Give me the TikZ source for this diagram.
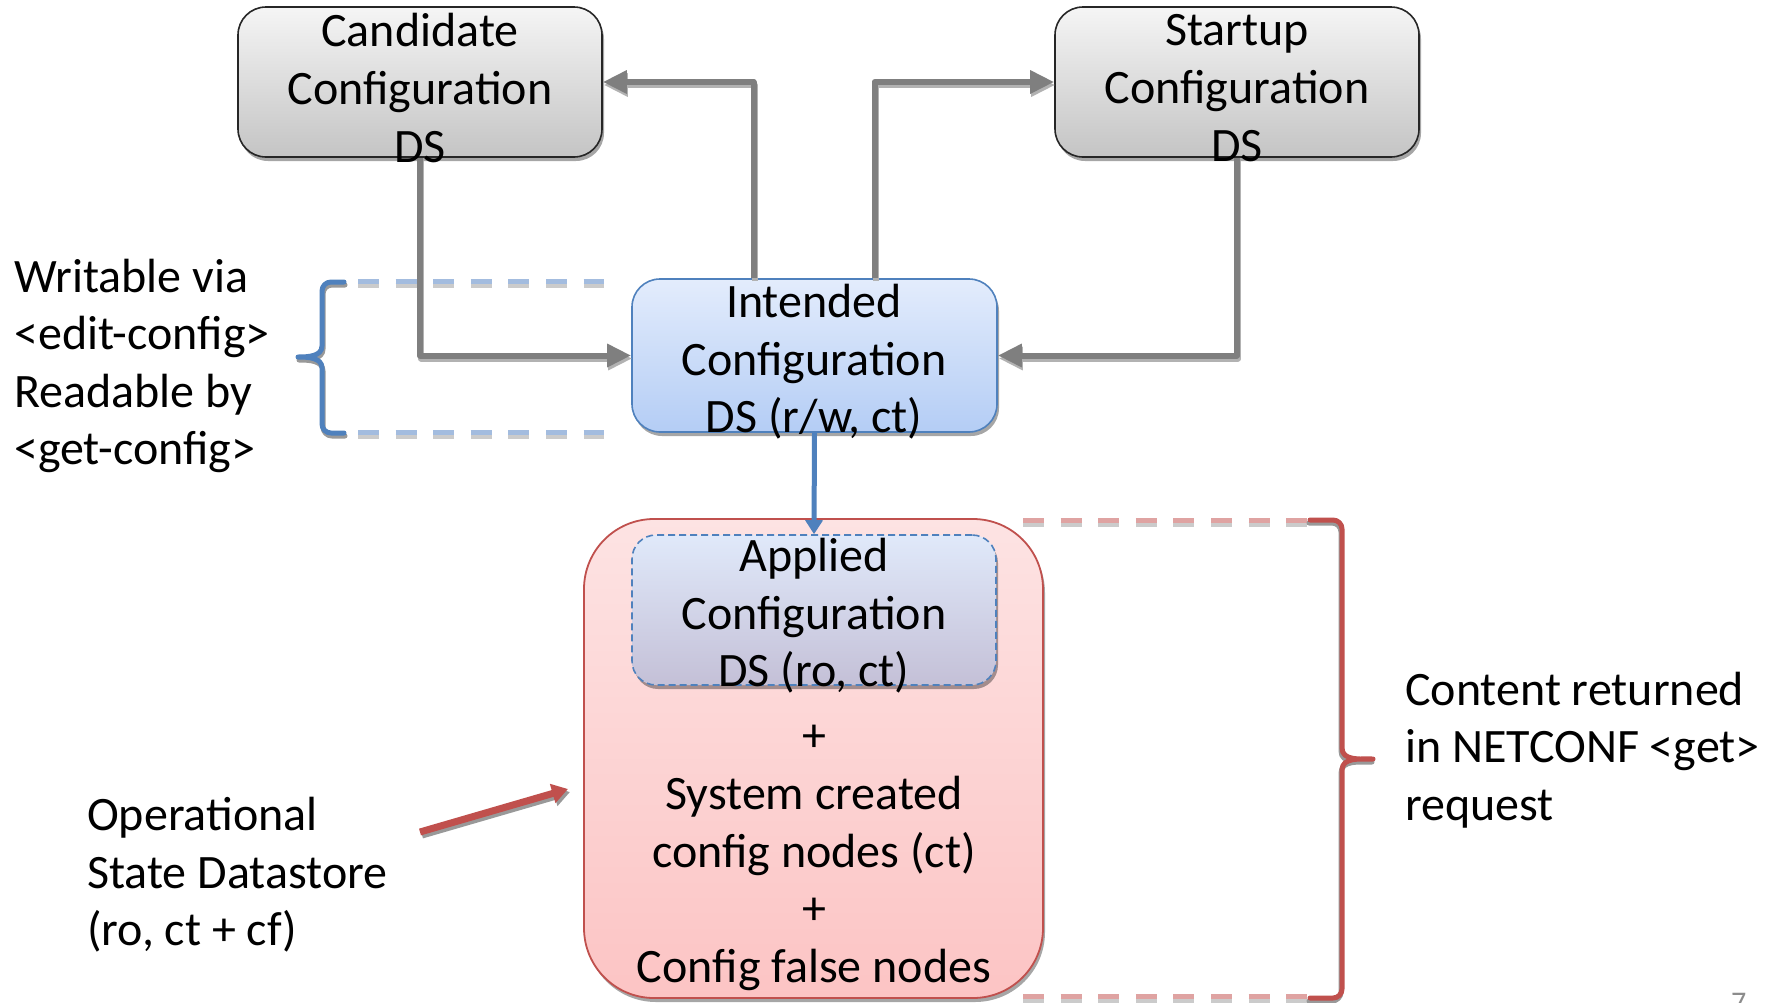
\documentclass[tikz,border=0pt]{standalone}
\usepackage{fontspec}
\setmainfont{Carlito}
\usetikzlibrary{arrows.meta,shadows}

\definecolor{connGray}{HTML}{7F7F7F}
\definecolor{connShadow}{HTML}{B2B2B2}
\definecolor{dsBlue}{HTML}{4F81BD}
\definecolor{dsRed}{HTML}{C0504D}
\definecolor{dashBlue}{HTML}{A3BCDF}
\definecolor{dashRed}{HTML}{DFA3A2}
\definecolor{dashShadow}{HTML}{CBCBCB}

\begin{document}
\begin{tikzpicture}[x=1pt,y=-1pt,
  lbl/.style={font=\fontsize{48}{57.6}\selectfont, align=center, inner sep=0pt},
  sidelbl/.style={font=\fontsize{48}{57.6}\selectfont, align=left, inner sep=0pt, anchor=west},
  boxshadow/.style={drop shadow={shadow xshift=2pt, shadow yshift=-4pt, fill=black, opacity=0.35}},
  dsbox/.style={rounded corners=28pt, line width=1.6pt, minimum width=364pt,
    minimum height=150pt, inner sep=0pt, shading=axis, boxshadow},
  graybox/.style={dsbox, draw=black!85, top color=white!96!black, bottom color=white!77!black},
  bluebox/.style={dsbox, draw=dsBlue},
  gconn/.style={draw=connGray, line width=6pt, line join=round,
    -{Triangle[length=24pt,width=22pt]}},
  gshadow/.style={gconn, draw=connShadow, transform canvas={shift={(1pt,-3pt)}}},
  bconn/.style={draw=dsBlue, line width=5pt, -{Triangle[length=14pt,width=17pt]}},
  redarrow/.style={draw=dsRed, line width=7pt, -{Triangle[length=16pt,width=19pt]}},
  redshadow/.style={redarrow, draw=black!40, transform canvas={shift={(2pt,-3pt)}}},
  bracestroke/.style={line width=5pt, line cap=round, line join=round},
  dashstroke/.style={line width=5pt, dash pattern=on 21pt off 16.6pt}
]
\useasboundingbox (0,0) rectangle (1774,1002);
\fill[white] (0,0) rectangle (1774,1002);

% datastore boxes
\node[graybox] (cand) at (420,82) {};
\node[graybox] (stup) at (1237,82) {};
\node[bluebox, minimum width=365pt, minimum height=153pt, top color={rgb,255:red,227;green,236;blue,252},
  bottom color={rgb,255:red,180;green,205;blue,245}] (int) at (814.5,355.5) {};

% operational state datastore
\node[rounded corners=70pt, draw=dsRed, line width=1.8pt, minimum width=459pt, minimum height=479pt,
  shading=axis, top color={rgb,255:red,253;green,227;blue,227}, bottom color={rgb,255:red,252;green,196;blue,196},
  boxshadow] (oper) at (813.5,758.5) {};
\node[rounded corners=24pt, draw=dsBlue, line width=1.6pt, dash pattern=on 7pt off 4pt,
  minimum width=364pt, minimum height=150pt, shading=axis,
  top color={rgb,255:red,224;green,233;blue,250}, bottom color={rgb,255:red,196;green,192;blue,215},
  boxshadow] (appl) at (814,610) {};

% gray connectors with their shadows
\draw[gshadow] (cand.south) |- (int.west);
\draw[gshadow] ([xshift=-61pt]int.north) |- (cand.east);
\draw[gshadow] ([xshift=60pt]int.north) |- (stup.west);
\draw[gshadow] (stup.south) |- (int.east);
\draw[gconn] (cand.south) |- (int.west);
\draw[gconn] ([xshift=-61pt]int.north) |- (cand.east);
\draw[gconn] ([xshift=60pt]int.north) |- (stup.west);
\draw[gconn] (stup.south) |- (int.east);

% intended -> applied
\draw[bconn] (int.south) -- (appl.north);

% dashed guide lines
\draw[dashstroke, draw=dashShadow] (358,285) -- (604,285);
\draw[dashstroke, draw=dashBlue] (358,281) -- (604,281);
\draw[dashstroke, draw=dashShadow] (358,436) -- (604,436);
\draw[dashstroke, draw=dashBlue] (358,432) -- (604,432);
\draw[dashstroke, draw=dashShadow] (1023,524) -- (1308,524);
\draw[dashstroke, draw=dashRed] (1023,520) -- (1308,520);
\draw[dashstroke, draw=dashShadow] (1023,1000) -- (1308,1000);
\draw[dashstroke, draw=dashRed] (1023,996) -- (1308,996);

% braces
\draw[bracestroke, draw=black!40, transform canvas={shift={(1pt,-3pt)}}]
  (344,282) -- (331,282) to[out=180,in=90] (322,291) -- (322,346)
  to[out=-90,in=0] (298,357) to[out=0,in=90] (322,368) -- (322,424)
  to[out=-90,in=180] (331,433) -- (344,433);
\draw[bracestroke, draw=dsBlue]
  (344,282) -- (331,282) to[out=180,in=90] (322,291) -- (322,346)
  to[out=-90,in=0] (298,357) to[out=0,in=90] (322,368) -- (322,424)
  to[out=-90,in=180] (331,433) -- (344,433);
\draw[bracestroke, draw=black!40, transform canvas={shift={(-1pt,-3pt)}}]
  (1310,520) -- (1333,520) to[out=0,in=90] (1342,529) -- (1342,748)
  to[out=-90,in=180] (1373,759) to[out=180,in=90] (1342,770) -- (1342,989)
  to[out=-90,in=0] (1333,998) -- (1310,998);
\draw[bracestroke, draw=dsRed]
  (1310,520) -- (1333,520) to[out=0,in=90] (1342,529) -- (1342,748)
  to[out=-90,in=180] (1373,759) to[out=180,in=90] (1342,770) -- (1342,989)
  to[out=-90,in=0] (1333,998) -- (1310,998);

% pointer to the operational state box
\coordinate (opsrc) at (420,832);
\coordinate (optip) at (568,789);
\draw[redshadow] (opsrc) -- (optip);
\draw[redarrow] (opsrc) -- (optip);

% texts
\node[lbl] (candtxt) at (420,88) {Candidate\\Configuration\\DS};
\node[lbl] (stuptxt) at (1237,88) {Startup\\Configuration\\DS};
\node[lbl] (inttxt) at (814,362) {Intended\\Configuration\\DS (r/w, ct)};
\node[lbl] (appltxt) at (814,616) {Applied\\Configuration\\DS (ro, ct)};
\node[lbl] (opertxt) at (814,858) {+\\System created\\config nodes (ct)\\+\\Config false nodes};
\node[sidelbl] (rwtxt) at (14,366) {Writable via\\<edit-config>\\Readable by\\<get-config>};
\node[sidelbl] (optxt) at (87,875) {Operational\\State Datastore\\(ro, ct + cf)};
\node[sidelbl] (gettxt) at (1405,750) {Content returned\\in NETCONF <get>\\request};
\node[anchor=north west, inner sep=0pt, text=black!45, font=\fontsize{30}{36}\selectfont] (pagenum) at (1731,993) {7};
\end{tikzpicture}
\end{document}
